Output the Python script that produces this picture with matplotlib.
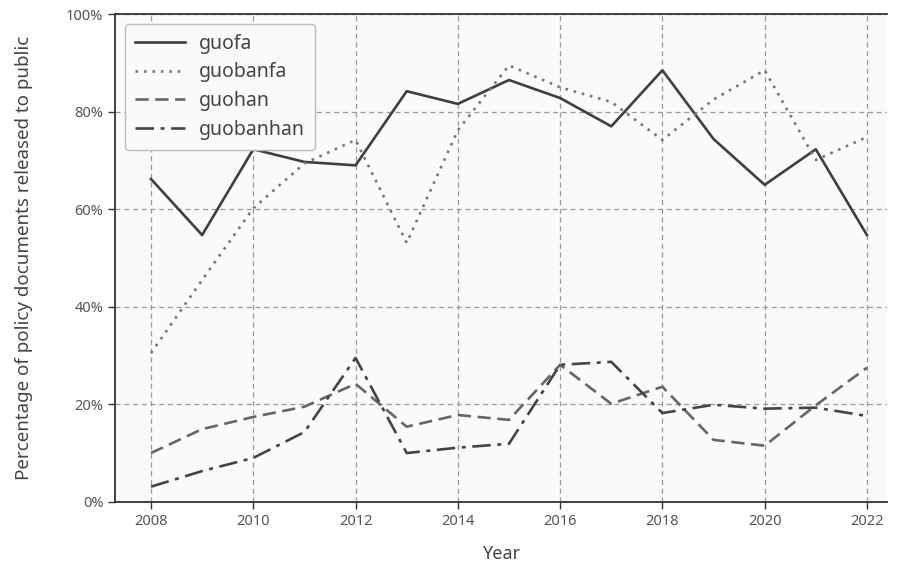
import matplotlib
matplotlib.use("Agg")
import matplotlib.pyplot as plt
from matplotlib.ticker import FuncFormatter

plt.rcParams['font.family'] = ['Noto Sans', 'DejaVu Sans']

years = list(range(2008, 2023))
guofa = [66.2, 54.7, 72.3, 69.7, 69.0, 84.2, 81.6, 86.5, 82.8, 77.0, 88.5, 74.4, 65.0, 72.3, 54.7]
guobanfa = [30.5, 45.5, 60.2, 69.4, 74.2, 53.1, 76.2, 89.5, 85.0, 82.0, 74.2, 82.5, 88.5, 70.1, 74.8]
guohan = [10.0, 14.9, 17.4, 19.5, 24.2, 15.4, 17.8, 16.8, 28.1, 20.1, 23.6, 12.7, 11.5, 19.8, 27.5]
guobanhan = [3.1, 6.3, 9.0, 14.3, 29.5, 10.0, 11.1, 11.9, 28.1, 28.7, 18.2, 19.9, 19.1, 19.3, 17.6]

fig = plt.figure(figsize=(9, 5.67), dpi=100)
ax = fig.add_axes([0.128, 0.115, 0.858, 0.86])
fig.patch.set_facecolor('white')
ax.set_facecolor('#fafafa')

ax.plot(years, guofa, color='#3f3f3f', lw=1.9, ls='-', label='guofa')
ax.plot(years, guobanfa, color='#777777', lw=1.9, ls=(0, (1, 2.2)), label='guobanfa')
ax.plot(years, guohan, color='#666666', lw=1.9, ls=(0, (5, 2.5)), label='guohan')
ax.plot(years, guobanhan, color='#444444', lw=1.9, ls=(0, (7, 2.5, 1.5, 2.5)), label='guobanhan')

ax.set_xlim(2007.3, 2022.4)
ax.set_ylim(0, 100)
ax.set_xticks(range(2008, 2023, 2))
ax.set_yticks(range(0, 101, 20))
ax.yaxis.set_major_formatter(FuncFormatter(lambda v, p: f"{int(v)}%"))

ax.grid(True, color='#9a9a9a', ls=(0, (4, 3)), lw=0.9)
ax.set_axisbelow(True)

for s in ['left', 'bottom', 'top']:
    ax.spines[s].set_color('#333333')
    ax.spines[s].set_linewidth(1.3)
ax.spines['right'].set_visible(False)

ax.tick_params(axis='both', colors='#333333', labelcolor='#555555', labelsize=10.5, length=5, width=1)

ax.set_xlabel('Year', fontsize=13, color='#444444', labelpad=12)
ax.set_ylabel('Percentage of policy documents released to public', fontsize=13.5, color='#444444', labelpad=24)

leg = ax.legend(loc='upper left', fontsize=14, frameon=True, fancybox=True,
                edgecolor='#bbbbbb', facecolor='#fafafa', framealpha=1,
                handlelength=2.6, handletextpad=0.7, borderpad=0.5, labelspacing=0.45,
                bbox_to_anchor=(0.0, 1.0))
for t in leg.get_texts():
    t.set_color('#444444')

fig.savefig('out.png', dpi=100)
